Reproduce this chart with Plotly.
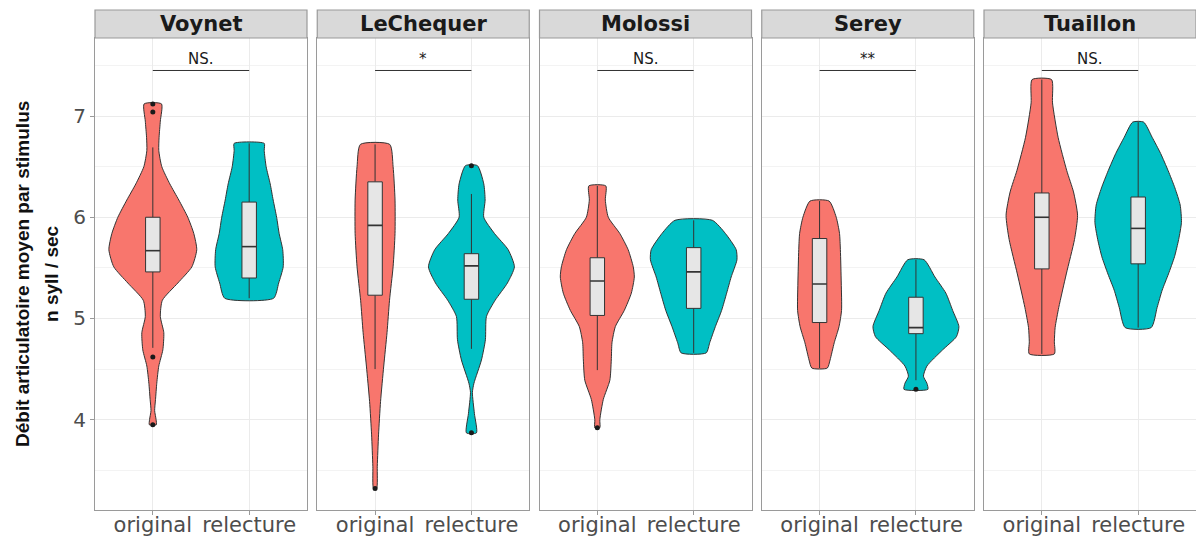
import plotly.graph_objects as go
from plotly.subplots import make_subplots

SPEAKERS = ["Voynet", "LeChequer", "Molossi", "Serey", "Tuaillon"]
CONDITIONS = ["original", "relecture"]
SIGNIF = ["NS.", "*", "NS.", "**", "NS."]
BRACKET_Y = 7.45
Y_TICKS = [4, 5, 6, 7]
Y_MINOR = [3.5, 4.5, 5.5, 6.5, 7.5]
Y_TITLE_1 = "Débit articulatoire moyen par stimulus"
Y_TITLE_2 = "n syll / sec"

# violin outlines: value levels and half-widths (x units)
VOYNET_ORIG_Y = [3.95, 4.00, 4.09, 4.20, 4.36, 4.53, 4.69, 4.86, 5.02, 5.18, 5.35, 5.51,
                 5.68, 5.84, 6.00, 6.17, 6.33, 6.50, 6.66, 6.79, 6.95, 7.12]
VOYNET_ORIG_W = [.036, .034, .019, .028, .041, .062, .104, .114, .078, .099, .259, .405,
                 .456, .425, .363, .270, .176, .093, .062, .065, .078, .090]
VOYNET_REL_Y = [5.20, 5.35, 5.51, 5.68, 5.84, 6.00, 6.17, 6.33, 6.50, 6.66, 6.73]
VOYNET_REL_W = [.254, .306, .353, .348, .311, .285, .249, .218, .176, .156, .156]

LECHEQUER_ORIG_Y = [3.32, 3.54, 3.85, 4.18, 4.53, 4.86, 5.18, 5.51, 5.84, 6.17, 6.50, 6.72]
LECHEQUER_ORIG_W = [.016, .023, .036, .057, .090, .124, .150, .187, .207, .207, .187, .152]
LECHEQUER_REL_Y = [3.87, 4.06, 4.27, 4.36, 4.59, 4.79, 5.02, 5.18, 5.35, 5.51, 5.68, 5.84,
                   6.00, 6.17, 6.33, 6.51]
LECHEQUER_REL_W = [.052, .031, .010, .026, .104, .145, .156, .246, .373, .446, .381, .239,
                   .128, .142, .128, .062]

MOLOSSI_ORIG_Y = [3.92, 4.00, 4.20, 4.39, 4.59, 4.76, 4.92, 5.08, 5.25, 5.41, 5.51, 5.68,
                  5.84, 6.00, 6.17, 6.31]
MOLOSSI_ORIG_W = [.026, .026, .062, .130, .145, .152, .187, .280, .353, .384, .373, .320,
                  .233, .114, .083, .088]
MOLOSSI_REL_Y = [4.66, 4.76, 4.92, 5.08, 5.25, 5.41, 5.58, 5.68, 5.84, 5.97]
MOLOSSI_REL_W = [.130, .166, .225, .290, .342, .389, .449, .441, .329, .194]

SEREY_ORIG_Y = [4.51, 4.59, 4.76, 4.92, 5.08, 5.35, 5.68, 5.84, 6.00, 6.16]
SEREY_ORIG_W = [.080, .109, .152, .202, .228, .225, .216, .207, .173, .099]
SEREY_REL_Y = [4.30, 4.36, 4.43, 4.53, 4.69, 4.82, 4.92, 5.08, 5.25, 5.41, 5.58]
SEREY_REL_W = [.124, .114, .078, .114, .277, .420, .446, .381, .311, .197, .085]

TUAILLON_ORIG_Y = [4.65, 4.77, 4.91, 5.11, 5.44, 5.78, 6.02, 6.25, 6.46, 6.79, 7.13, 7.36]
TUAILLON_ORIG_W = [.130, .130, .138, .176, .254, .339, .371, .329, .259, .169, .111, .101]
TUAILLON_REL_Y = [4.91, 5.11, 5.28, 5.44, 5.61, 5.78, 5.95, 6.12, 6.29, 6.46, 6.63, 6.79, 6.94]
TUAILLON_REL_W = [.135, .197, .249, .314, .377, .420, .449, .436, .381, .311, .233, .145, .057]

# box statistics [original, relecture] per speaker
BOX_LOWER = [[4.71, 5.20], [4.50, 4.70], [4.49, 4.66], [4.51, 4.39], [4.65, 4.91]]
BOX_Q1 = [[5.46, 5.40], [5.23, 5.19], [5.03, 5.10], [4.96, 4.85], [5.49, 5.54]]
BOX_MED = [[5.67, 5.71], [5.92, 5.52], [5.37, 5.46], [5.34, 4.91], [6.00, 5.89]]
BOX_Q3 = [[6.00, 6.15], [6.35, 5.64], [5.60, 5.70], [5.79, 5.21], [6.24, 6.20]]
BOX_UPPER = [[6.69, 6.73], [6.72, 6.23], [6.31, 5.97], [6.16, 5.58], [7.36, 6.94]]
OUTLIERS = [[[3.95, 4.62, 7.04, 7.12], []],
            [[3.32], [3.87, 6.51]],
            [[3.92], []],
            [[], [4.30]],
            [[], []]]

PROFILES = [
    [(VOYNET_ORIG_Y, VOYNET_ORIG_W), (VOYNET_REL_Y, VOYNET_REL_W)],
    [(LECHEQUER_ORIG_Y, LECHEQUER_ORIG_W), (LECHEQUER_REL_Y, LECHEQUER_REL_W)],
    [(MOLOSSI_ORIG_Y, MOLOSSI_ORIG_W), (MOLOSSI_REL_Y, MOLOSSI_REL_W)],
    [(SEREY_ORIG_Y, SEREY_ORIG_W), (SEREY_REL_Y, SEREY_REL_W)],
    [(TUAILLON_ORIG_Y, TUAILLON_ORIG_W), (TUAILLON_REL_Y, TUAILLON_REL_W)],
]

COLORS = ["#F8766D", "#00BFC4"]
OUTLINE = "#333333"
BORDER = "#9A9A9A"
GRID = "#EBEBEB"
TXT = "#4D4D4D"
BOX_FILL = "#E6E6E6"
BOX_HALF = 0.075

W, H = 1196, 536
ML, MR, MT, MB = 95, 0, 38, 26
STRIP_H = 28
plot_h = H - MT - MB
plot_w = W - ML - MR

fig = make_subplots(rows=1, cols=5, shared_yaxes=True, horizontal_spacing=10.25 / plot_w)


def outline(center, ys, ws):
    xs = [center + w for w in ws] + [center - w for w in reversed(ws)]
    yy = list(ys) + list(reversed(ys))
    xs.append(xs[0])
    yy.append(yy[0])
    return xs, yy


def line(xs, ys, width=1.0, color=OUTLINE):
    return go.Scatter(x=xs, y=ys, mode="lines", line=dict(color=color, width=width),
                      hoverinfo="skip", showlegend=False)


for i, spk in enumerate(SPEAKERS):
    col = i + 1
    for j, cond in enumerate(CONDITIONS):
        c = j + 1
        ys, ws = PROFILES[i][j]
        xs, yy = outline(c, ys, ws)
        fig.add_trace(go.Scatter(x=xs, y=yy, mode="lines", fill="toself",
                                 fillcolor=COLORS[j],
                                 line=dict(color=OUTLINE, width=1, shape="spline", smoothing=0.6),
                                 hoverinfo="skip", showlegend=False), row=1, col=col)
    for j, cond in enumerate(CONDITIONS):
        c = j + 1
        lo, q1, md, q3, hi = (BOX_LOWER[i][j], BOX_Q1[i][j], BOX_MED[i][j],
                              BOX_Q3[i][j], BOX_UPPER[i][j])
        fig.add_trace(line([c, c], [lo, q1]), row=1, col=col)
        fig.add_trace(line([c, c], [q3, hi]), row=1, col=col)
        fig.add_trace(go.Scatter(x=[c - BOX_HALF, c + BOX_HALF, c + BOX_HALF, c - BOX_HALF, c - BOX_HALF],
                                 y=[q1, q1, q3, q3, q1], mode="lines", fill="toself",
                                 fillcolor=BOX_FILL, line=dict(color=OUTLINE, width=1),
                                 hoverinfo="skip", showlegend=False), row=1, col=col)
        fig.add_trace(line([c - BOX_HALF, c + BOX_HALF], [md, md], width=1.6), row=1, col=col)
        outs = OUTLIERS[i][j]
        if outs:
            fig.add_trace(go.Scatter(x=[c] * len(outs), y=outs, mode="markers",
                                     marker=dict(color="#1A1A1A", size=5),
                                     hoverinfo="skip", showlegend=False), row=1, col=col)
    fig.add_trace(line([1, 2], [BRACKET_Y, BRACKET_Y]), row=1, col=col)
    xr = "x" if col == 1 else f"x{col}"
    yr = "y" if col == 1 else f"y{col}"
    fig.add_annotation(x=1.5, y=BRACKET_Y, xref=xr, yref=yr, text=SIGNIF[i],
                       showarrow=False, yanchor="bottom", yshift=0,
                       font=dict(family="DejaVu Sans", size=15, color="#1A1A1A"))
    # facet strip
    fig.add_shape(type="rect", xref=f"{xr} domain", yref="paper",
                  x0=0, x1=1, y0=1, y1=1 + STRIP_H / plot_h,
                  fillcolor="#D9D9D9", line=dict(color=BORDER, width=1.2), layer="above")
    fig.add_annotation(x=0.5, y=1 + STRIP_H / 2 / plot_h, xref=f"{xr} domain", yref="paper",
                       text=f"<b>{spk}</b>", showarrow=False, yanchor="middle",
                       font=dict(family="DejaVu Sans", size=21, color="#1A1A1A"))

fig.update_xaxes(range=[0.4, 2.6], tickvals=[1, 2], ticktext=CONDITIONS,
                 ticks="outside", ticklen=4, tickcolor=BORDER, automargin=False,
                 ticklabelstandoff=-8,
                 showgrid=True, gridcolor=GRID, gridwidth=1.1, zeroline=False,
                 showline=True, mirror=True, linecolor=BORDER, linewidth=1.2,
                 tickfont=dict(family="DejaVu Sans", size=21, color=TXT), fixedrange=True)
fig.update_yaxes(range=[3.108, 7.771], tickvals=Y_TICKS, automargin=False,
                 ticks="outside", ticklen=4, tickcolor=BORDER,
                 showgrid=True, gridcolor=GRID, gridwidth=1.1, zeroline=False,
                 minor=dict(tickvals=Y_MINOR, showgrid=True, gridcolor="#F3F3F3", gridwidth=0.7),
                 showline=True, mirror=True, linecolor=BORDER, linewidth=1.2,
                 tickfont=dict(family="DejaVu Sans", size=20, color=TXT), fixedrange=True)
for col in range(2, 6):
    fig.update_yaxes(ticks="", row=1, col=col)

TITLE_FONT = dict(family="Liberation Sans, Arial", size=19, color="#111111")
fig.add_annotation(x=(22 - ML) / plot_w, y=0.5, xref="paper", yref="paper",
                   text=f"<b>{Y_TITLE_1}</b>", textangle=-90, showarrow=False,
                   xanchor="center", yanchor="middle", font=TITLE_FONT)
fig.add_annotation(x=(51 - ML) / plot_w, y=0.5, xref="paper", yref="paper",
                   text=f"<b>{Y_TITLE_2}</b>", textangle=-90, showarrow=False,
                   xanchor="center", yanchor="middle", font=TITLE_FONT)

fig.update_layout(width=W, height=H, margin=dict(l=ML, r=MR, t=MT, b=MB),
                  paper_bgcolor="white", plot_bgcolor="white",
                  showlegend=False)

fig.write_html("out.html", config={"displayModeBar": False},
               post_script="document.body.style.margin='0';")
